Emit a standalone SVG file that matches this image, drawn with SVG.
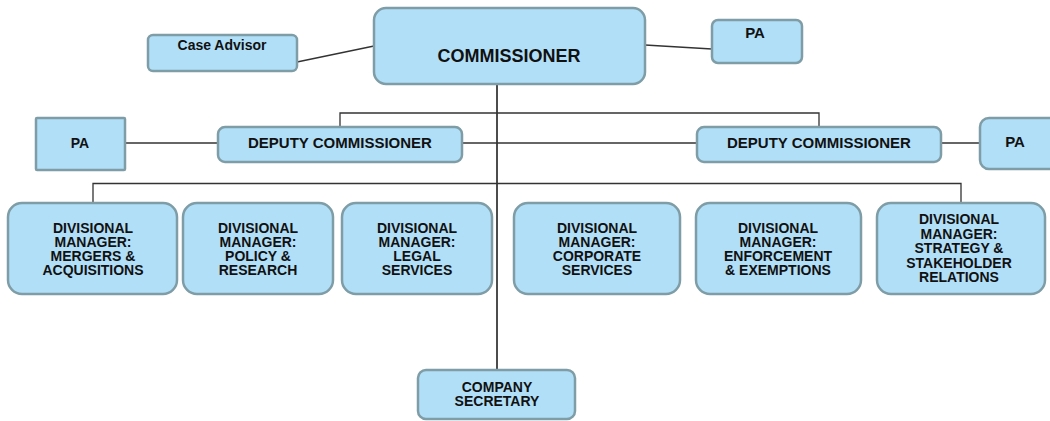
<svg xmlns="http://www.w3.org/2000/svg" width="1050" height="421" viewBox="0 0 1050 421">
<style>
.box{fill:#b2dff8;stroke:#7e9da6;stroke-width:2.5}
.t{font-family:"Liberation Sans",Arial,sans-serif;font-weight:bold;fill:#111;text-anchor:middle}
.d{font-size:14px}
.ln{stroke:#333;stroke-width:1.3;fill:none}
</style>
<rect width="1050" height="421" fill="#fff"/>
<g id="connectors">
<line class="ln" x1="297" y1="62" x2="374" y2="46"/>
<line class="ln" x1="645" y1="45" x2="712" y2="49"/>
<line class="ln" x1="497" y1="84" x2="497" y2="370" style="stroke:#111;stroke-width:1.5"/>
<polyline class="ln" points="340,127 340,113 819,113 819,127"/>
<line class="ln" x1="125" y1="143" x2="218" y2="143"/>
<line class="ln" x1="462" y1="143" x2="697" y2="143"/>
<line class="ln" x1="941" y1="143" x2="980" y2="143"/>
<polyline class="ln" points="93,203 93,183.5 961,183.5 961,203"/>
</g>
<g id="commissioner">
<rect class="box" x="374" y="8" width="271" height="76" rx="12"/>
<text class="t" x="509" y="62" font-size="18">COMMISSIONER</text>
</g>
<g id="case-advisor">
<rect class="box" x="148" y="35" width="149" height="36" rx="5"/>
<text class="t" x="222" y="50" font-size="14">Case Advisor</text>
</g>
<g id="pa-top">
<rect class="box" x="712" y="20" width="90" height="43" rx="6"/>
<text class="t" x="755" y="38" font-size="15">PA</text>
</g>
<g id="pa-left">
<rect class="box" x="36" y="118" width="89" height="52" rx="1"/>
<text class="t" x="80" y="148" font-size="14">PA</text>
</g>
<g id="deputy-left">
<rect class="box" x="218" y="127" width="244" height="35" rx="7"/>
<text class="t" x="340" y="148" font-size="15">DEPUTY COMMISSIONER</text>
</g>
<g id="deputy-right">
<rect class="box" x="697" y="127" width="244" height="35" rx="7"/>
<text class="t" x="819" y="148" font-size="15">DEPUTY COMMISSIONER</text>
</g>
<g id="pa-right">
<rect class="box" x="980" y="118" width="90" height="51" rx="9"/>
<text class="t" x="1015" y="147" font-size="15">PA</text>
</g>
<g id="dm-mergers">
<rect class="box" x="8" y="203" width="169" height="91" rx="14"/>
<text class="t d" x="93"><tspan x="93" y="233">DIVISIONAL</tspan><tspan x="93" y="247">MANAGER:</tspan><tspan x="93" y="261">MERGERS &amp;</tspan><tspan x="93" y="275">ACQUISITIONS</tspan></text>
</g>
<g id="dm-policy">
<rect class="box" x="183" y="203" width="150" height="91" rx="14"/>
<text class="t d" x="258"><tspan x="258" y="233">DIVISIONAL</tspan><tspan x="258" y="247">MANAGER:</tspan><tspan x="258" y="261">POLICY &amp;</tspan><tspan x="258" y="275">RESEARCH</tspan></text>
</g>
<g id="dm-legal">
<rect class="box" x="342" y="203" width="150" height="91" rx="14"/>
<text class="t d" x="417"><tspan x="417" y="233">DIVISIONAL</tspan><tspan x="417" y="247">MANAGER:</tspan><tspan x="417" y="261">LEGAL</tspan><tspan x="417" y="275">SERVICES</tspan></text>
</g>
<g id="dm-corporate">
<rect class="box" x="514" y="203" width="166" height="91" rx="14"/>
<text class="t d" x="597"><tspan x="597" y="233">DIVISIONAL</tspan><tspan x="597" y="247">MANAGER:</tspan><tspan x="597" y="261">CORPORATE</tspan><tspan x="597" y="275">SERVICES</tspan></text>
</g>
<g id="dm-enforcement">
<rect class="box" x="696" y="203" width="165" height="91" rx="14"/>
<text class="t d" x="778"><tspan x="778" y="233">DIVISIONAL</tspan><tspan x="778" y="247">MANAGER:</tspan><tspan x="778" y="261">ENFORCEMENT</tspan><tspan x="778" y="275">&amp; EXEMPTIONS</tspan></text>
</g>
<g id="dm-strategy">
<rect class="box" x="877" y="203" width="168" height="91" rx="14"/>
<text class="t d" x="959"><tspan x="959" y="224">DIVISIONAL</tspan><tspan x="959" y="238.5">MANAGER:</tspan><tspan x="959" y="253">STRATEGY &amp;</tspan><tspan x="959" y="267.5">STAKEHOLDER</tspan><tspan x="959" y="282">RELATIONS</tspan></text>
</g>
<g id="company-secretary">
<rect class="box" x="418" y="370" width="157" height="49" rx="8"/>
<text class="t d" x="497"><tspan x="497" y="392">COMPANY</tspan><tspan x="497" y="406">SECRETARY</tspan></text>
</g>
</svg>
